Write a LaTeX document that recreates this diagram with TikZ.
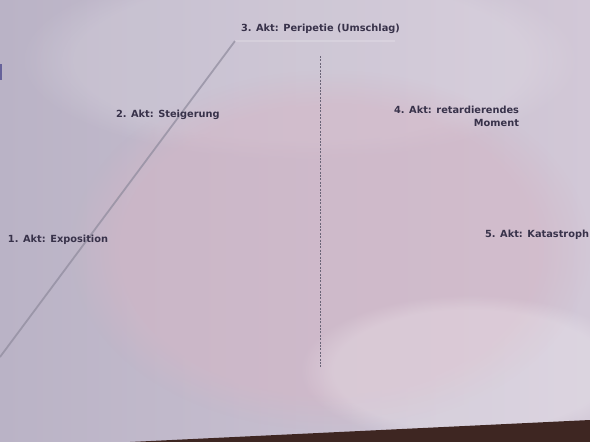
\documentclass[tikz,border=0pt]{standalone}
\usepackage{fontspec}
\setmainfont{DejaVu Sans}
\usetikzlibrary{fadings}
\definecolor{paperL}{HTML}{BAB3C6}
\definecolor{paperR}{HTML}{D2C8D7}
\definecolor{pinkish}{HTML}{D4B6C6}
\definecolor{inkc}{HTML}{38324A}
\definecolor{pencil}{HTML}{8E8A9C}
\definecolor{floorc}{HTML}{3E2622}
\tikzset{
  lbl/.style={font=\fontsize{9.8}{12}\selectfont\bfseries, text=inkc, inner sep=0pt, outer sep=0pt},
  pencilline/.style={draw=pencil, line width=1.8pt, opacity=0.7},
  dashline/.style={draw=inkc!75, line width=0.7pt, dash pattern=on 2pt off 1.4pt},
}
\begin{document}
\begin{tikzpicture}[x=1pt,y=-1pt]
\useasboundingbox (0,0) rectangle (590,442);
\clip (0,0) rectangle (590,442);
% paper
\shade[left color=paperL, right color=paperR] (0,0) rectangle (590,442);
\fill[white, opacity=0.14, path fading=circle with fuzzy edge 20 percent] (300,60) ellipse (280 and 100);
\fill[pinkish, opacity=0.55, path fading=circle with fuzzy edge 20 percent] (330,250) ellipse (260 and 180);
\fill[white, opacity=0.22, path fading=circle with fuzzy edge 20 percent] (470,370) ellipse (170 and 75);
% floor below the paper edge
\fill[floorc] (130,442) -- (590,420) -- (590,442) -- cycle;
\fill[blue!40!black, opacity=0.45] (0,64) rectangle (2,80);
% pencil outline of the pyramid
\coordinate (p0) at (0,357);
\coordinate (p1) at (235,41);
\coordinate (p2) at (395,41);
\draw[pencilline] (p0) -- (p1);
\draw[draw=white, line width=1.5pt, opacity=0.18] (p1) -- (p2);
% dashed climax line
\coordinate (d0) at (320,56);
\coordinate (d1) at (320,368);
\draw[dashline] (d0) -- (d1);
% labels
\node[lbl, anchor=base west] (a3) at (241,31) {3. Akt: Peripetie (Umschlag)};
\node[lbl, anchor=base west] (a2) at (116,117) {2. Akt: Steigerung};
\node[lbl, anchor=base east] (a4) at (519,113) {4. Akt: retardierendes};
\node[lbl, anchor=base east] (a4b) at (519,126) {Moment};
\node[lbl, anchor=base west] (a1) at (8,242) {1. Akt: Exposition};
\node[lbl, anchor=base east] (a5) at (589,237) {5. Akt: Katastroph};
\end{tikzpicture}
\end{document}
